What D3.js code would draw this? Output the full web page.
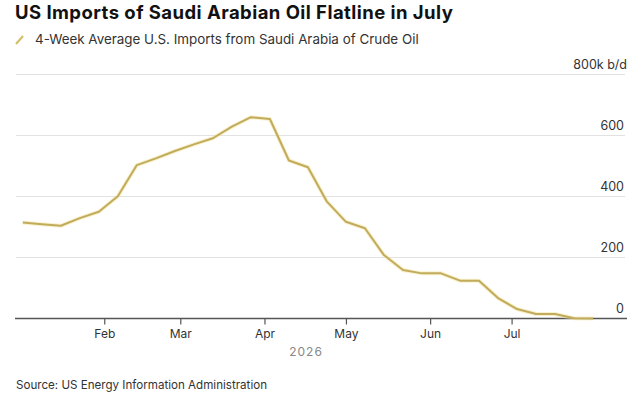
<!DOCTYPE html>
<html>
<head>
<meta charset="utf-8">
<script src="https://cdn.jsdelivr.net/npm/d3@7"></script>
<style>
  body { margin: 0; background: #fff; }
  svg { font-family: Inter, "Liberation Sans", Arial, sans-serif; }
</style>
</head>
<body>
<div id="viz"></div>
<script>
// Weekly 4-week average, thousand barrels a day
var weeks = ["2026-01-02","2026-01-09","2026-01-16","2026-01-23","2026-01-30",
             "2026-02-06","2026-02-13","2026-02-20","2026-02-27",
             "2026-03-06","2026-03-13","2026-03-20","2026-03-27",
             "2026-04-03","2026-04-10","2026-04-17","2026-04-24",
             "2026-05-01","2026-05-08","2026-05-15","2026-05-22","2026-05-29",
             "2026-06-05","2026-06-12","2026-06-19","2026-06-26",
             "2026-07-03","2026-07-10","2026-07-17","2026-07-24","2026-07-31"];
var imports = [315, 309, 304, 329, 350,
               401, 503, 525, 549,
               571, 591, 629, 660,
               654, 518, 496, 383,
               317, 296, 208, 159, 148,
               148, 124, 124, 67,
               31, 15, 15, 1, 0];
var yTicks = [0, 200, 400, 600, 800];
var monthTicks = ["2026-02-01","2026-03-01","2026-04-01","2026-05-01","2026-06-01","2026-07-01"];

var W = 640, H = 400;
// note: "top" is taken by window.top, so plotTop/plotBottom
var plotLeft = 16, plotRight = 627, plotTop = 74.5, plotBottom = 318.5;
var parse = d3.utcParse("%Y-%m-%d");

var svg = d3.select("#viz").append("svg")
    .attr("width", W).attr("height", H);

var x = d3.scaleUtc()
    .domain([new Date(Date.UTC(2025, 11, 30, 12)), new Date(Date.UTC(2026, 7, 12, 12))])
    .range([plotLeft, plotRight]);
var y = d3.scaleLinear().domain([0, 800]).range([plotBottom, plotTop]);

// title + legend
svg.append("text")
    .attr("x", 15).attr("y", 19)
    .attr("font-size", 18.5).attr("font-weight", "bold").attr("fill", "#111")
    .attr("letter-spacing", 0.45)
    .text("US Imports of Saudi Arabian Oil Flatline in July");
svg.append("line")
    .attr("x1", 16).attr("y1", 44).attr("x2", 23).attr("y2", 36)
    .attr("stroke", "#d2bd6a").attr("stroke-width", 2);
svg.append("text")
    .attr("x", 35).attr("y", 44)
    .attr("font-size", 13.4).attr("fill", "#333")
    .text("4-Week Average U.S. Imports from Saudi Arabia of Crude Oil");

// grid + y labels
var grid = svg.append("g");
yTicks.forEach(function(t) {
    grid.append("line")
        .attr("x1", plotLeft).attr("x2", 625)
        .attr("y1", y(t)).attr("y2", y(t))
        .attr("stroke", "#e2e2e2").attr("stroke-width", 1.2);
    grid.append("text")
        .attr("x", t == 800 ? 627 : 624).attr("y", y(t) - 6)
        .attr("text-anchor", "end")
        .attr("font-size", 12.5).attr("fill", "#333")
        .text(t == 800 ? "800k b/d" : t);
});

// x axis
var xAxis = d3.axisBottom(x)
    .tickValues(monthTicks.map(parse))
    .tickFormat(d3.utcFormat("%b"))
    .tickSize(6).tickSizeOuter(0);
var ax = svg.append("g")
    .attr("transform", "translate(0," + plotBottom + ")")
    .call(xAxis);
ax.select(".domain").attr("stroke", "#555").attr("stroke-width", 1.5)
    .attr("d", "M" + (plotLeft - 1) + ",0H" + plotRight);
ax.selectAll(".tick line").attr("stroke", "#555").attr("stroke-width", 1.2);
ax.selectAll(".tick text").attr("font-size", 12).attr("fill", "#333")
    .attr("font-family", "Inter, Liberation Sans, Arial, sans-serif").attr("dy", "0.9em");

svg.append("text")
    .attr("x", 306).attr("y", 356)
    .attr("text-anchor", "middle")
    .attr("font-size", 12).attr("fill", "#888").attr("letter-spacing", 1)
    .text("2026");

// the line, with a soft yellow halo under it
var data = weeks.map(function(w, i) { return {date: parse(w), value: imports[i]}; });
var line = d3.line()
    .x(function(d) { return x(d.date); })
    .y(function(d) { return y(d.value); });
svg.append("path")
    .datum(data)
    .attr("d", line)
    .attr("fill", "none")
    .attr("stroke", "#f3e39a").attr("stroke-width", 4).attr("opacity", 0.5);
svg.append("path")
    .datum(data)
    .attr("d", line)
    .attr("fill", "none")
    .attr("stroke", "#c1ab5c").attr("stroke-width", 2)
    .attr("stroke-linejoin", "round");

svg.append("text")
    .attr("x", 16).attr("y", 389)
    .attr("font-size", 11.6).attr("fill", "#333")
    .text("Source: US Energy Information Administration");
</script>
</body>
</html>
